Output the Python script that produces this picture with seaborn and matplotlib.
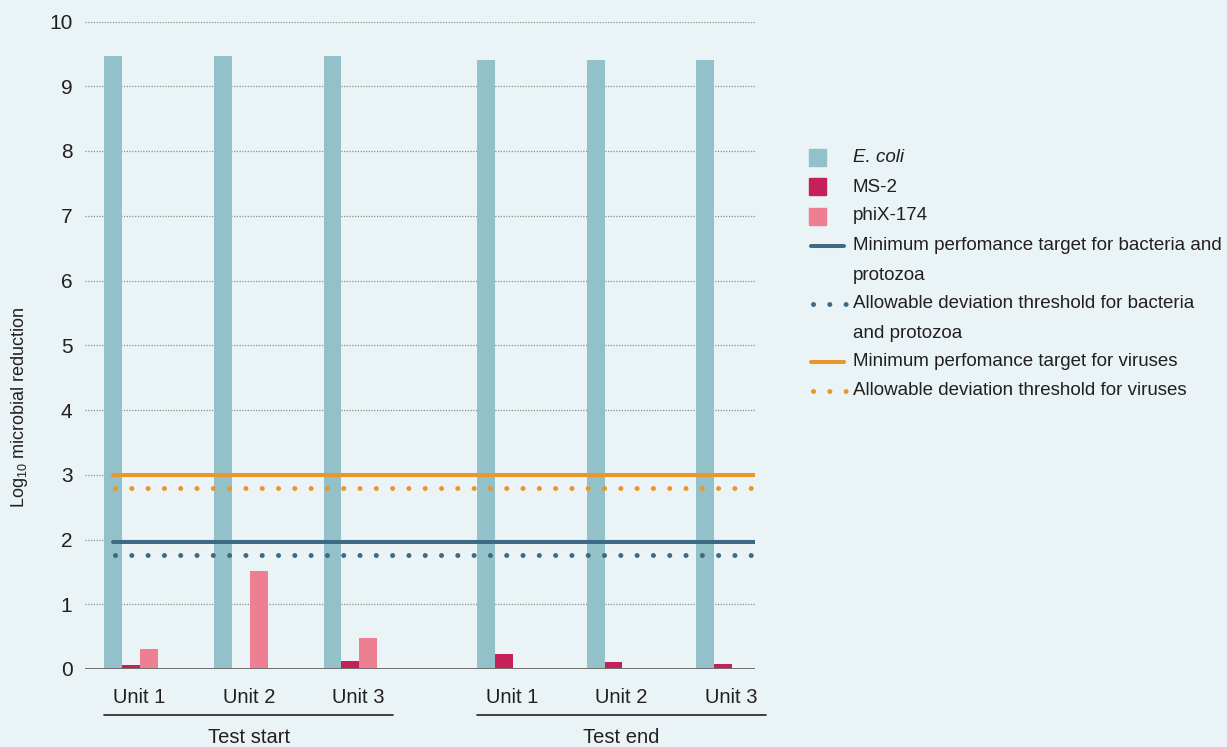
import numpy as np
import pandas as pd
import matplotlib
matplotlib.use('Agg')
import matplotlib.pyplot as plt
import seaborn as sns
from matplotlib import font_manager
from matplotlib.lines import Line2D
from matplotlib.patches import Rectangle

# data
units = ['Unit 1', 'Unit 2', 'Unit 3', 'Unit 1', 'Unit 2', 'Unit 3']
phases = ['Test start', 'Test end']
series = ['E. coli', 'MS-2', 'phiX-174']
ecoli = [9.46, 9.46, 9.46, 9.41, 9.41, 9.41]
ms2 = [0.06, 0.0, 0.12, 0.23, 0.11, 0.08]
phix = [0.31, 1.51, 0.48, 0.0, 0.0, 0.0]
target_bact = 1.96
dev_bact = 1.76
target_vir = 3.0
dev_vir = 2.8
yticks = list(range(0, 11))

bg = '#eaf4f6'
colors = {'E. coli': '#93c1c9', 'MS-2': '#c52058', 'phiX-174': '#ee7f93'}
blue = '#3d6b85'
orange = '#e8972a'
ink = '#231f20'

names = set(f.name for f in font_manager.fontManager.ttflist)
font = 'Liberation Sans Narrow' if 'Liberation Sans Narrow' in names else 'Liberation Sans'

sns.set_theme(style='white')
plt.rcParams['font.family'] = [font, 'DejaVu Sans']
plt.rcParams['mathtext.fontset'] = 'custom'
plt.rcParams['mathtext.rm'] = font
plt.rcParams['text.color'] = ink

# cluster positions, with a wider gap between the two test phases
idx = np.arange(len(units))
pos = idx + np.where(idx >= 3, 0.4, 0.0)
df = pd.DataFrame({
    'pos': np.tile(pos, len(series)),
    'series': np.repeat(series, len(units)),
    'value': ecoli + ms2 + phix,
})

W, H = 1227, 747
fig = plt.figure(figsize=(W / 100, H / 100), dpi=100, facecolor=bg)
ax = fig.add_axes([85 / W, 1 - 669 / H, (755 - 85) / W, (669 - 21.5) / H])
ax.set_facecolor(bg)

sns.barplot(data=df, x='pos', y='value', hue='series', hue_order=series,
            palette=colors, native_scale=True, width=0.49, dodge=True,
            errorbar=None, legend=False, linewidth=0, saturation=1, ax=ax)

xmin, xmax = -0.42, 5.69
ax.set_xlim(xmin, xmax)
ax.set_ylim(0, 10)
for s in ax.spines.values():
    s.set_visible(False)

# dotted grid + solid baseline
for y in yticks[1:]:
    ax.axhline(y, color='#8c8c8c', lw=0.9, ls=(0, (1, 1.2)), zorder=0.5)
ax.axhline(0, color='#707070', lw=1.4, zorder=4)

# target / threshold lines
x0 = -0.165
lw_s, lw_d = 2.9, 3.6
dots = (0, (0.01, 3.25))
ax.plot([x0, xmax], [target_vir] * 2, color=orange, lw=lw_s, solid_capstyle='round', zorder=3)
ax.plot([x0 + 0.02, xmax], [dev_vir] * 2, color=orange, lw=lw_d, ls=dots,
        dash_capstyle='round', zorder=3)
ax.plot([x0, xmax], [target_bact] * 2, color=blue, lw=lw_s, solid_capstyle='round', zorder=3)
ax.plot([x0 + 0.02, xmax], [dev_bact] * 2, color=blue, lw=lw_d, ls=dots,
        dash_capstyle='round', zorder=3)

ax.set_yticks(yticks)
ax.set_yticklabels([str(t) for t in yticks])
ax.set_xticks(pos + 0.073)
ax.set_xticklabels(units)
ax.tick_params(axis='y', length=0, pad=9, labelsize=15, labelcolor=ink)
ax.tick_params(axis='x', length=0, pad=14, labelsize=14.5, labelcolor=ink)
ax.set_xlabel('')
ax.set_ylabel('')

# phase brackets under the unit labels
trans = ax.get_xaxis_transform()
for k, ph in enumerate(phases):
    c = pos[k * 3:(k + 1) * 3].mean() + 0.073
    ax.plot([c - 1.32, c + 1.32], [-0.071, -0.071], color=ink, lw=1.2,
            transform=trans, clip_on=False)
    ax.text(c, -0.106, ph, transform=trans, ha='center', va='center', fontsize=14.5)

fig.text(20 / W, 1 - 407 / H, 'Log$_{10}$ microbial reduction', rotation=90,
         ha='center', va='center', fontsize=13)

# legend drawn by hand so the handles sit like the original
rows = [157, 187, 216, 246, 275, 304, 333, 362, 391]
legend_items = [
    ('patch', colors['E. coli'], 'E. coli'),
    ('patch', colors['MS-2'], 'MS-2'),
    ('patch', colors['phiX-174'], 'phiX-174'),
    ('solid', blue, 'Minimum perfomance target for bacteria and'),
    (None, None, 'protozoa'),
    ('dot', blue, 'Allowable deviation threshold for bacteria'),
    (None, None, 'and protozoa'),
    ('solid', orange, 'Minimum perfomance target for viruses'),
    ('dot', orange, 'Allowable deviation threshold for viruses'),
]
for y, (kind, col, label) in zip(rows, legend_items):
    fy = 1 - y / H
    if kind == 'patch':
        fig.add_artist(Rectangle((809 / W, 1 - (y + 8.5) / H), 17 / W, 17 / H,
                                 color=col, transform=fig.transFigure))
    elif kind == 'solid':
        fig.add_artist(Line2D([811 / W, 844 / W], [fy, fy], color=col, lw=lw_s,
                              solid_capstyle='round', transform=fig.transFigure))
    elif kind == 'dot':
        fig.add_artist(Line2D([813 / W, 846 / W], [fy, fy], color=col, lw=lw_d,
                              ls=dots, dash_capstyle='round',
                              transform=fig.transFigure))
    fig.text(853 / W, fy, label, va='center', ha='left', fontsize=13.5,
             style='italic' if label == 'E. coli' else 'normal')

fig.savefig('out.png', dpi=100, facecolor=bg)
